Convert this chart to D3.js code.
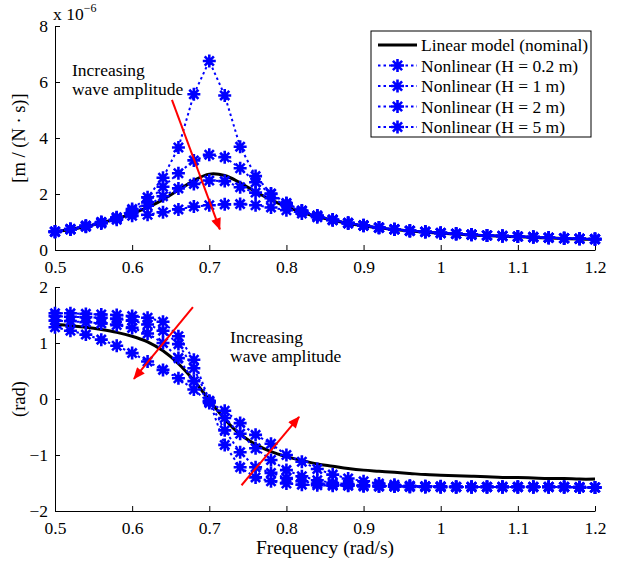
<!DOCTYPE html>
<html>
<head>
<meta charset="utf-8">
<script src="https://cdn.jsdelivr.net/npm/d3@7"></script>
<style>
  body { margin: 0; background: #fff; }
  svg { display: block; font-family: "Liberation Serif", "DejaVu Serif", serif; }
</style>
</head>
<body>
<div id="chart"></div>
<script>
// Frequency response: magnitude (top) and phase (bottom), linear vs nonlinear models
const freq = [0.50, 0.52, 0.54, 0.56, 0.58, 0.60, 0.62, 0.64, 0.66, 0.68, 0.70,
  0.72, 0.74, 0.76, 0.78, 0.80, 0.82, 0.84, 0.86,
  0.88, 0.90, 0.92, 0.94, 0.96, 0.98, 1.00, 1.02, 1.04, 1.06, 1.08, 1.10, 1.12, 1.14, 1.16, 1.18, 1.20];

// magnitude, units of 1e-6 m/(N·s)
const magLinear = [0.65, 0.73, 0.84, 0.97, 1.12, 1.30, 1.52, 1.80, 2.14, 2.48, 2.71,
  2.66, 2.40, 2.08, 1.79, 1.55, 1.35, 1.19, 1.07,
  0.95, 0.87, 0.79, 0.73, 0.68, 0.64, 0.60, 0.57, 0.54, 0.51, 0.49, 0.47, 0.45, 0.43, 0.41, 0.39, 0.38];
const magH02 = [0.66, 0.75, 0.87, 1.00, 1.17, 1.46, 1.88, 2.58, 3.66, 5.56, 6.75,
  5.52, 3.69, 2.64, 2.02, 1.68, 1.41, 1.23, 1.09,
  0.97, 0.88, 0.80, 0.74, 0.69, 0.65, 0.61, 0.58, 0.55, 0.52, 0.50, 0.48, 0.46, 0.44, 0.42, 0.40, 0.39];
const magH1 = [0.66, 0.75, 0.86, 0.99, 1.15, 1.40, 1.70, 2.26, 2.74, 3.20, 3.40,
  3.31, 2.92, 2.42, 2.00, 1.66, 1.40, 1.22, 1.08,
  0.96, 0.88, 0.80, 0.74, 0.69, 0.65, 0.61, 0.58, 0.55, 0.52, 0.50, 0.48, 0.46, 0.44, 0.42, 0.40, 0.39];
const magH2 = [0.65, 0.74, 0.85, 0.98, 1.13, 1.32, 1.58, 1.92, 2.20, 2.36, 2.48,
  2.46, 2.24, 2.05, 1.85, 1.60, 1.38, 1.21, 1.07,
  0.96, 0.87, 0.80, 0.74, 0.69, 0.65, 0.61, 0.58, 0.55, 0.52, 0.50, 0.48, 0.46, 0.44, 0.42, 0.40, 0.39];
const magH5 = [0.64, 0.73, 0.83, 0.95, 1.08, 1.22, 1.26, 1.35, 1.45, 1.55, 1.60,
  1.63, 1.64, 1.60, 1.52, 1.42, 1.30, 1.17, 1.06,
  0.95, 0.87, 0.79, 0.73, 0.68, 0.64, 0.60, 0.57, 0.54, 0.52, 0.50, 0.48, 0.46, 0.44, 0.42, 0.40, 0.38];

// phase, rad
const phLinear = [1.33, 1.31, 1.28, 1.24, 1.19, 1.12, 1.02, 0.86, 0.63, 0.33, -0.02,
  -0.36, -0.63, -0.81, -0.94, -1.03, -1.10, -1.16, -1.20,
  -1.24, -1.27, -1.29, -1.31, -1.33, -1.35, -1.36, -1.37, -1.38, -1.39, -1.40, -1.40, -1.41, -1.42, -1.42, -1.43, -1.43];
const phH02 = [1.53, 1.53, 1.52, 1.51, 1.50, 1.48, 1.45, 1.38, 1.12, 0.70, -0.03,
  -0.82, -1.22, -1.40, -1.47, -1.51, -1.53, -1.54, -1.55,
  -1.55, -1.56, -1.56, -1.56, -1.57, -1.57, -1.57, -1.57, -1.57, -1.57, -1.57, -1.57, -1.57, -1.57, -1.57, -1.57, -1.58];
const phH1 = [1.48, 1.47, 1.46, 1.45, 1.43, 1.40, 1.33, 1.22, 0.98, 0.55, -0.04,
  -0.56, -0.95, -1.22, -1.32, -1.41, -1.47, -1.51, -1.53,
  -1.54, -1.55, -1.56, -1.56, -1.56, -1.57, -1.57, -1.57, -1.57, -1.57, -1.57, -1.57, -1.57, -1.57, -1.57, -1.58, -1.58];
const phH2 = [1.40, 1.39, 1.37, 1.35, 1.32, 1.27, 1.17, 1.00, 0.73, 0.32, -0.05,
  -0.34, -0.62, -0.88, -1.09, -1.27, -1.38, -1.45, -1.50,
  -1.52, -1.54, -1.55, -1.56, -1.56, -1.56, -1.57, -1.57, -1.57, -1.57, -1.57, -1.57, -1.57, -1.57, -1.57, -1.58, -1.58];
const phH5 = [1.28, 1.22, 1.15, 1.06, 0.95, 0.82, 0.67, 0.52, 0.37, 0.17, -0.07,
  -0.21, -0.43, -0.64, -0.80, -1.00, -1.12, -1.25, -1.35,
  -1.42, -1.47, -1.51, -1.53, -1.55, -1.56, -1.56, -1.57, -1.57, -1.57, -1.57, -1.57, -1.57, -1.57, -1.57, -1.58, -1.58];

const seriesNames = ["Linear model (nominal)", "Nonlinear (H = 0.2 m)", "Nonlinear (H = 1 m)",
  "Nonlinear (H = 2 m)", "Nonlinear (H = 5 m)"];

const xTicks = [0.5, 0.6, 0.7, 0.8, 0.9, 1.0, 1.1, 1.2];
const magTicks = [0, 2, 4, 6, 8];
const phTicks = [-2, -1, 0, 1, 2];

const W = 631, H = 566;
const FONT = 17.5;
const BLUE = "#0000ff";

const svg = d3.select("#chart").append("svg").attr("width", W).attr("height", H);

const x = d3.scaleLinear().domain([0.5, 1.2]).range([55, 595]);
const yMag = d3.scaleLinear().domain([0, 8]).range([250, 26]);
const yPh = d3.scaleLinear().domain([-2, 2]).range([511, 287]);

const fmt = d3.format("~g");

// arrowhead
svg.append("defs").append("marker")
  .attr("id", "arrow")
  .attr("viewBox", "0 0 12 10")
  .attr("refX", 11).attr("refY", 5)
  .attr("markerWidth", 13).attr("markerHeight", 10)
  .attr("markerUnits", "userSpaceOnUse")
  .attr("orient", "auto")
  .append("path").attr("d", "M0,0L12,5L0,10Z").attr("fill", "#ff0000");

const star = "M-6.5,0H6.5M0,-6.5V6.5M-4.6,-4.6L4.6,4.6M-4.6,4.6L4.6,-4.6";

function drawPanel(y, ticks, linear, nonlinear) {
  const g = svg.append("g");

  // axes (box off, ticks inward)
  const xa = g.append("g")
    .attr("transform", `translate(0,${y.range()[0]})`)
    .call(d3.axisBottom(x).tickValues(xTicks).tickFormat(fmt).tickSizeInner(-5).tickSizeOuter(0).tickPadding(9));
  const ya = g.append("g")
    .attr("transform", `translate(${x.range()[0]},0)`)
    .call(d3.axisLeft(y).tickValues(ticks).tickFormat(fmt).tickSizeInner(-5).tickSizeOuter(0).tickPadding(7));
  [xa, ya].forEach((a) => {
    a.attr("font-family", null).attr("font-size", FONT);
    a.selectAll("text").attr("fill", "#000");
    a.selectAll("line, path").attr("stroke", "#000");
  });
  xa.selectAll("text").attr("dy", "0.78em");

  // linear model
  const line = d3.line().x((d, i) => x(freq[i])).y((d) => y(d)).curve(d3.curveCatmullRom);
  g.append("path")
    .datum(linear)
    .attr("d", line)
    .attr("fill", "none")
    .attr("stroke", "#000")
    .attr("stroke-width", 3);

  // nonlinear series: dotted lines with asterisks
  const dotted = d3.line().x((d, i) => x(freq[i])).y((d) => y(d));
  nonlinear.forEach((s) => {
    g.append("path")
      .datum(s)
      .attr("d", dotted)
      .attr("fill", "none")
      .attr("stroke", BLUE)
      .attr("stroke-width", 2)
      .attr("stroke-dasharray", "2.5,3");
    g.selectAll(null)
      .data(s)
      .join("path")
      .attr("d", star)
      .attr("transform", (d, i) => `translate(${x(freq[i])},${y(d)})`)
      .attr("stroke", BLUE)
      .attr("stroke-width", 2.6)
      .attr("fill", "none");
  });
  return g;
}

drawPanel(yMag, magTicks, magLinear, [magH02, magH1, magH2, magH5]);
drawPanel(yPh, phTicks, phLinear, [phH02, phH1, phH2, phH5]);

// exponent on top axis
const expo = svg.append("text").attr("x", 53).attr("y", 20).attr("font-size", FONT);
expo.append("tspan").text("x 10");
expo.append("tspan").attr("dy", -8).attr("font-size", 12).text("−6");

// axis titles
svg.append("text")
  .attr("transform", `translate(25,${(yMag.range()[0] + yMag.range()[1]) / 2}) rotate(-90)`)
  .attr("text-anchor", "middle")
  .attr("font-size", FONT + 1)
  .text("[m / (N · s)]");
svg.append("text")
  .attr("transform", `translate(25,${(yPh.range()[0] + yPh.range()[1]) / 2}) rotate(-90)`)
  .attr("text-anchor", "middle")
  .attr("font-size", FONT + 1)
  .text("(rad)");
svg.append("text")
  .attr("x", (x.range()[0] + x.range()[1]) / 2)
  .attr("y", 554)
  .attr("text-anchor", "middle")
  .attr("font-size", 19.5)
  .text("Frequency (rad/s)");

// annotations
function note(fx, fy, y) {
  const t = svg.append("text").attr("x", x(fx)).attr("y", y(fy)).attr("font-size", FONT);
  t.append("tspan").text("Increasing");
  t.append("tspan").attr("x", x(fx)).attr("dy", 19).text("wave amplitude");
}
note(0.522, 6.2, yMag);
note(0.727, 1.0, yPh);

function arrow(f0, v0, f1, v1, y) {
  svg.append("line")
    .attr("x1", x(f0)).attr("y1", y(v0))
    .attr("x2", x(f1)).attr("y2", y(v1))
    .attr("stroke", "#ff0000")
    .attr("stroke-width", 2)
    .attr("marker-end", "url(#arrow)");
}
arrow(0.6516, 5.36, 0.7137, 0.74, yMag);
arrow(0.6788, 1.64, 0.6023, 0.36, yPh);
arrow(0.7418, -1.54, 0.8164, -0.32, yPh);

// legend
const lg = svg.append("g").attr("transform", "translate(371,31)");
lg.append("rect").attr("width", 220).attr("height", 106)
  .attr("fill", "#fff").attr("stroke", "#000").attr("stroke-width", 1);
seriesNames.forEach((name, i) => {
  const cy = 14 + i * 20.5;
  if (i === 0) {
    lg.append("line").attr("x1", 7).attr("x2", 46).attr("y1", cy).attr("y2", cy)
      .attr("stroke", "#000").attr("stroke-width", 3);
  } else {
    lg.append("line").attr("x1", 7).attr("x2", 46).attr("y1", cy).attr("y2", cy)
      .attr("stroke", BLUE).attr("stroke-width", 2).attr("stroke-dasharray", "2.5,3");
    lg.append("path").attr("d", star).attr("transform", `translate(26.5,${cy})`)
      .attr("stroke", BLUE).attr("stroke-width", 2.6).attr("fill", "none");
  }
  lg.append("text").attr("x", 50).attr("y", cy + 6).attr("font-size", FONT).text(name);
});
</script>
</body>
</html>
